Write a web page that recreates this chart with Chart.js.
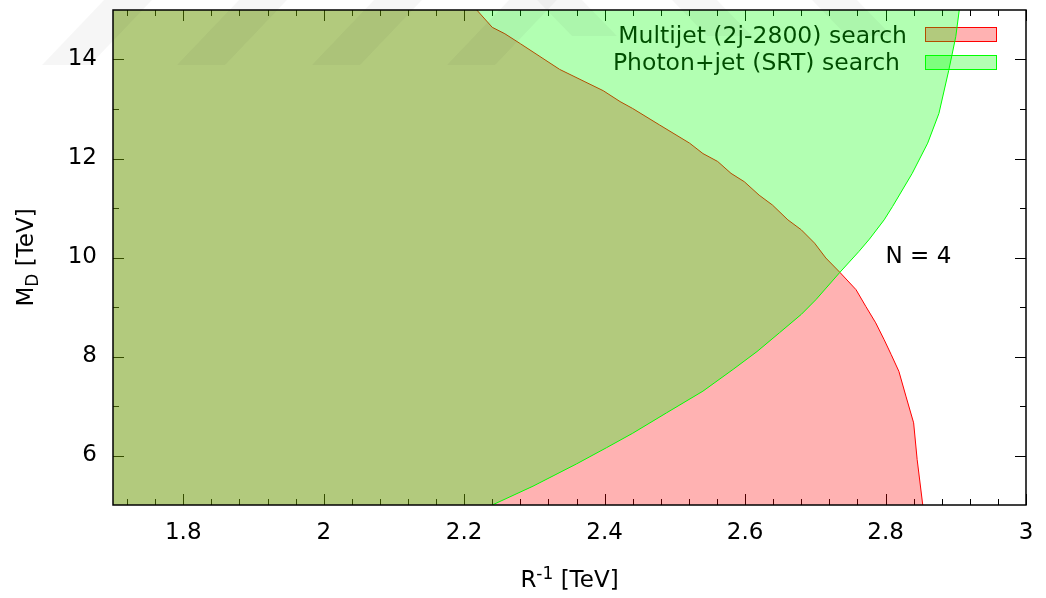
<!DOCTYPE html>
<html>
<head>
<meta charset="utf-8">
<script src="https://cdn.jsdelivr.net/npm/chart.js@4"></script>
<style>
html, body { margin: 0; padding: 0; background: #fff; }
</style>
</head>
<body>
<canvas id="limits" width="1046" height="598"></canvas>
<script>
// exclusion contours, N = 4 (x = 1/R in TeV, y = M_D in TeV)
const multijetX = [2.218, 2.240, 2.258, 2.280, 2.336, 2.372, 2.398, 2.422, 2.440, 2.478, 2.521, 2.540, 2.561, 2.580, 2.599, 2.620, 2.639, 2.661, 2.680, 2.699, 2.715, 2.735, 2.758, 2.772, 2.786, 2.798, 2.808, 2.819, 2.829, 2.840, 2.845, 2.853];
const multijetY = [15.0, 14.65, 14.52, 14.32, 13.80, 13.55, 13.37, 13.15, 13.01, 12.68, 12.31, 12.10, 11.94, 11.70, 11.53, 11.26, 11.06, 10.76, 10.56, 10.29, 9.99, 9.70, 9.35, 9.01, 8.68, 8.34, 8.04, 7.70, 7.20, 6.66, 5.92, 5.0];

const photonX = [2.240, 2.298, 2.360, 2.403, 2.440, 2.488, 2.540, 2.583, 2.617, 2.649, 2.680, 2.701, 2.735, 2.762, 2.777, 2.798, 2.810, 2.838, 2.860, 2.876, 2.890, 2.900, 2.905];
const photonY = [5.0, 5.38, 5.83, 6.16, 6.45, 6.86, 7.30, 7.74, 8.10, 8.48, 8.85, 9.15, 9.70, 10.12, 10.37, 10.76, 11.03, 11.70, 12.31, 12.91, 13.78, 14.46, 15.0];

const xRange = [1.7, 3.0];
const yRange = [5, 15];
const xTicks = [1.8, 2, 2.2, 2.4, 2.6, 2.8, 3];
const yTicks = [6, 8, 10, 12, 14];
const legendLabels = ['Multijet (2j-2800) search', 'Photon+jet (SRT) search'];
const noteLabel = 'N = 4';

const FONT = 'DejaVu Sans';
const RED = 'rgb(255,0,0)', RED_FILL = 'rgba(255,0,0,0.3)';
const GREEN = 'rgb(0,255,0)', GREEN_FILL = 'rgba(0,255,0,0.3)';

const toPts = (xs, ys) => xs.map((x, i) => ({x: x, y: ys[i]}));

// regions are closed along the left edge of the plot
const multijetCurve = toPts(multijetX, multijetY);
const multijetRegion = multijetCurve.concat([{x: xRange[0], y: yRange[0]}, {x: xRange[0], y: yRange[1]}]);
const photonCurve = toPts(photonX, photonY);
const photonRegion = photonCurve.concat([{x: xRange[0], y: yRange[1]}, {x: xRange[0], y: yRange[0]}]);

function ticksAndKey(chart) {
  const {ctx, chartArea: a, scales: {x, y}} = chart;
  ctx.save();
  ctx.strokeStyle = '#000';
  ctx.lineWidth = 1;
  ctx.beginPath();
  for (let k = 43; k <= 75; k++) {
    const px = Math.round(x.getPixelForValue(k / 25)) + 0.5;
    const len = k % 5 === 0 ? 11 : 6;
    ctx.moveTo(px, a.bottom); ctx.lineTo(px, a.bottom - len);
    ctx.moveTo(px, a.top); ctx.lineTo(px, a.top + len);
  }
  for (let k = 6; k <= 14; k++) {
    const py = Math.round(y.getPixelForValue(k)) + 0.5;
    const len = k % 2 === 0 ? 11 : 6;
    ctx.moveTo(a.left, py); ctx.lineTo(a.left + len, py);
    ctx.moveTo(a.right, py); ctx.lineTo(a.right - len, py);
  }
  ctx.stroke();

  // key, drawn under the filled regions like gnuplot does
  ctx.font = '23.5px "' + FONT + '"';
  ctx.fillStyle = '#000';
  ctx.textAlign = 'right';
  ctx.textBaseline = 'alphabetic';
  ctx.fillText(legendLabels[0], 907, 43);
  ctx.fillText(legendLabels[1], 900, 70);
  ctx.fillStyle = RED_FILL; ctx.fillRect(925.5, 27.5, 71, 14);
  ctx.strokeStyle = RED; ctx.strokeRect(925.5, 27.5, 71, 14);
  ctx.fillStyle = GREEN_FILL; ctx.fillRect(925.5, 55.5, 71, 14);
  ctx.strokeStyle = GREEN; ctx.strokeRect(925.5, 55.5, 71, 14);
  ctx.restore();
}

function frameAndText(chart) {
  const {ctx, chartArea: a, scales: {x, y}} = chart;
  ctx.save();
  ctx.strokeStyle = '#000';
  ctx.lineWidth = 1.5;
  ctx.strokeRect(a.left, a.top, a.right - a.left, a.bottom - a.top);

  ctx.fillStyle = '#000';
  ctx.font = '23px "' + FONT + '"';
  ctx.textAlign = 'left';
  ctx.textBaseline = 'middle';
  ctx.fillText(noteLabel, x.getPixelForValue(2.8), y.getPixelForValue(10));

  // x title: R^-1 [TeV]
  ctx.textBaseline = 'alphabetic';
  const big = '23px "' + FONT + '"', small = '17px "' + FONT + '"';
  ctx.font = big; const wR = ctx.measureText('R').width, wT = ctx.measureText(' [TeV]').width;
  ctx.font = small; const wS = ctx.measureText('-1').width;
  let cx = (a.left + a.right) / 2 - (wR + wS + wT) / 2;
  ctx.font = big; ctx.fillText('R', cx, 587);
  ctx.font = small; ctx.fillText('-1', cx + wR, 579);
  ctx.font = big; ctx.fillText(' [TeV]', cx + wR + wS, 587);

  // y title: M_D [TeV]
  ctx.font = big; const wM = ctx.measureText('M').width;
  ctx.font = small; const wD = ctx.measureText('D').width;
  ctx.translate(33, (a.top + a.bottom) / 2);
  ctx.rotate(-Math.PI / 2);
  cx = -(wM + wD + wT) / 2;
  ctx.font = big; ctx.fillText('M', cx, 0);
  ctx.font = small; ctx.fillText('D', cx + wM, 5);
  ctx.font = big; ctx.fillText(' [TeV]', cx + wM + wD, 0);
  ctx.restore();
}

// faint diagonal watermark across the top of the page
function watermark(chart) {
  const ctx = chart.ctx;
  ctx.save();
  ctx.fillStyle = 'rgba(0,0,0,0.035)';
  for (const x0 of [42, 177, 312, 447]) {
    ctx.beginPath();
    ctx.moveTo(x0, 65); ctx.lineTo(x0 + 48, 65);
    ctx.lineTo(x0 + 110, 0); ctx.lineTo(x0 + 62, 0);
    ctx.closePath(); ctx.fill();
  }
  for (const x0 of [537, 672, 812]) {
    ctx.beginPath();
    ctx.moveTo(x0, 0); ctx.lineTo(x0 + 45, 0);
    ctx.lineTo(x0 + 80, 36); ctx.lineTo(x0 + 35, 36);
    ctx.closePath(); ctx.fill();
  }
  ctx.restore();
}

const gnuplotLook = {
  id: 'gnuplotLook',
  beforeDatasetsDraw: ticksAndKey,
  afterDatasetsDraw: frameAndText,
  afterDraw: watermark
};

const tickFont = {family: FONT, size: 23};

new Chart(document.getElementById('limits'), {
  type: 'scatter',
  data: {
    datasets: [
      {label: 'photon line', data: photonCurve, showLine: true, borderColor: GREEN, borderWidth: 1, fill: false, order: 1},
      {label: legendLabels[1], data: photonRegion, showLine: true, borderWidth: 0, borderColor: 'rgba(0,0,0,0)', backgroundColor: GREEN_FILL, fill: 'shape', order: 2},
      {label: 'multijet line', data: multijetCurve, showLine: true, borderColor: RED, borderWidth: 1, fill: false, order: 3},
      {label: legendLabels[0], data: multijetRegion, showLine: true, borderWidth: 0, borderColor: 'rgba(0,0,0,0)', backgroundColor: RED_FILL, fill: 'shape', order: 4}
    ]
  },
  options: {
    responsive: false,
    animation: false,
    elements: {point: {radius: 0, hoverRadius: 0}, line: {tension: 0}},
    layout: {padding: {top: 10, right: 20, left: 0, bottom: 0}},
    plugins: {legend: {display: false}, tooltip: {enabled: false}},
    scales: {
      x: {
        type: 'linear', min: xRange[0], max: xRange[1],
        grid: {display: false, drawTicks: false}, border: {display: false},
        ticks: {font: tickFont, color: '#000', padding: 14, maxRotation: 0, autoSkip: false, callback: v => String(v)},
        afterBuildTicks: s => { s.ticks = xTicks.map(v => ({value: v})); },
        afterFit: s => { s.height = 93; s.paddingLeft = 0; s.paddingRight = 0; }
      },
      y: {
        type: 'linear', min: yRange[0], max: yRange[1],
        grid: {display: false, drawTicks: false}, border: {display: false},
        ticks: {font: tickFont, color: '#000', padding: 16, autoSkip: false, callback: v => String(v)},
        afterBuildTicks: s => { s.ticks = yTicks.map(v => ({value: v})); },
        afterFit: s => { s.width = 113; s.paddingTop = 0; s.paddingBottom = 0; }
      }
    }
  },
  plugins: [gnuplotLook]
});
</script>
</body>
</html>
